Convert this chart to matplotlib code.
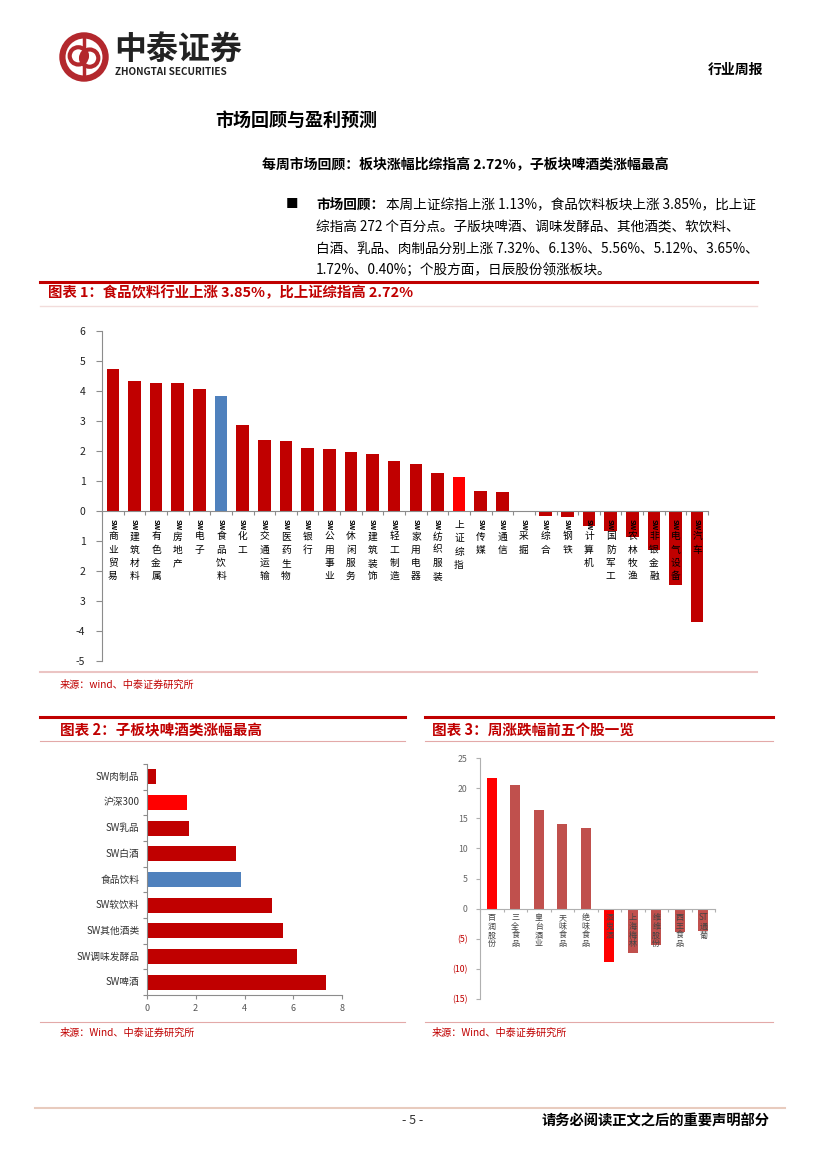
import matplotlib
matplotlib.use("Agg")
import matplotlib.pyplot as plt
from matplotlib.lines import Line2D
from matplotlib.patches import Circle

plt.rcParams['font.family'] = ['Noto Sans CJK SC', 'DejaVu Sans']

# 图表1 数据
ind_names = ['SW商业贸易', 'SW建筑材料', 'SW有色金属', 'SW房地产', 'SW电子', 'SW食品饮料',
             'SW化工', 'SW交通运输', 'SW医药生物', 'SW银行', 'SW公用事业', 'SW休闲服务',
             'SW建筑装饰', 'SW轻工制造', 'SW家用电器', 'SW纺织服装', '上证综指', 'SW传媒',
             'SW通信', 'SW采掘', 'SW综合', 'SW钢铁', 'SW计算机', 'SW国防军工', 'SW农林牧渔',
             'SW非银金融', 'SW电气设备', 'SW汽车']
ind_values = [4.73, 4.33, 4.27, 4.26, 4.07, 3.85, 2.87, 2.37, 2.33, 2.10, 2.07, 1.97,
              1.90, 1.67, 1.57, 1.27, 1.13, 0.67, 0.63, 0.01, -0.16, -0.19, -0.49, -0.66,
              -0.86, -1.29, -2.46, -3.69]
ind_yticks = [6, 5, 4, 3, 2, 1, 0, -1, -2, -3, -4, -5]
ind_yticklabels = ['6', '5', '4', '3', '2', '1', '0', '1', '2', '3', '-4', '-5']

# 图表2 数据
sub_names = ['SW肉制品', '沪深300', 'SW乳品', 'SW白酒', '食品饮料', 'SW软饮料',
             'SW其他酒类', 'SW调味发酵品', 'SW啤酒']
sub_values = [0.40, 1.65, 1.72, 3.65, 3.85, 5.12, 5.56, 6.13, 7.32]

# 图表3 数据
stock_names = ['百润股份', '三全食品', '皇台酒业', '天味食品', '绝味食品',
               '酒鬼酒', '上海梅林', '维维股份', '西王食品', 'ST通葡']
stock_values = [21.6, 20.5, 16.3, 14.1, 13.3, -8.9, -7.4, -6.1, -3.9, -3.7]
stock_yticks = [25, 20, 15, 10, 5, 0, -5, -10, -15]
stock_yticklabels = ['25', '20', '15', '10', '5', '0', '(5)', '(10)', '(15)']

W, H = 827, 1169
RED = '#C00000'
PINK = '#E3A9A8'
GRAY = '#8C8C8C'

fig = plt.figure(figsize=(W / 100, H / 100), dpi=100)


def fx(x):
    return x / W


def fy(y):
    return 1 - y / H


def hline(x0, x1, y, color, lw):
    fig.add_artist(Line2D([fx(x0), fx(x1)], [fy(y), fy(y)], transform=fig.transFigure,
                          color=color, lw=lw))


def put(x, y, s, **kw):
    fig.text(fx(x), fy(y), s, va='center', **kw)


def axes_px(x0, y0, x1, y1):
    return fig.add_axes([fx(x0), fy(y1), (x1 - x0) / W, (y1 - y0) / H])


# ---- 页眉 ----
logo = axes_px(59, 32, 109, 82)
logo.set_aspect('equal')
logo.set_xlim(-1.1, 1.1)
logo.set_ylim(-1.1, 1.1)
logo.axis('off')
logo.add_patch(Circle((0, 0), 0.95, fill=False, ec='#B3282D', lw=4.5))
logo.add_patch(Circle((-0.25, 0.05), 0.38, fill=False, ec='#B3282D', lw=3))
logo.add_patch(Circle((0.25, -0.05), 0.38, fill=False, ec='#B3282D', lw=3))
logo.plot([0.0, 0.0], [-0.85, 0.85], color='#B3282D', lw=2.5)

put(114, 50, '中泰证券', fontsize=23, fontweight='bold', color='#222222')
put(115, 72, 'ZHONGTAI SECURITIES', fontsize=7.2, fontweight='bold', color='#222222')
put(763, 70, '行业周报', fontsize=10, fontweight='bold', ha='right')

put(215, 120, '市场回顾与盈利预测', fontsize=13, fontweight='bold')
put(262, 165, '每周市场回顾：板块涨幅比综指高 2.72%，子板块啤酒类涨幅最高',
    fontsize=10, fontweight='bold')

put(286, 205, '■', fontsize=9)
para = ['本周上证综指上涨 1.13%，食品饮料板块上涨 3.85%，比上证',
        '综指高 272 个百分点。子版块啤酒、调味发酵品、其他酒类、软饮料、',
        '白酒、乳品、肉制品分别上涨 7.32%、6.13%、5.56%、5.12%、3.65%、',
        '1.72%、0.40%；个股方面，日辰股份领涨板块。']
put(316, 205, '市场回顾：', fontsize=9.8, fontweight='bold')
put(386, 205, para[0], fontsize=9.8)
for i, line in enumerate(para[1:]):
    put(316, 227 + 21.5 * i, line, fontsize=9.8)

# ---- 图表1 ----
hline(40, 757, 282, RED, 2.2)
put(48, 293, '图表 1：食品饮料行业上涨 3.85%，比上证综指高 2.72%', fontsize=10.4,
    fontweight='bold', color=RED)
hline(40, 757, 306, '#F2DCDB', 1)

ax1 = axes_px(102, 331, 708, 661)
xs = list(range(len(ind_names)))
colors1 = []
for n in ind_names:
    if n == 'SW食品饮料':
        colors1.append('#4F81BD')
    elif n == '上证综指':
        colors1.append('#FF0000')
    else:
        colors1.append(RED)
ax1.bar(xs, ind_values, width=0.58, color=colors1, zorder=2)
ax1.set_xlim(-0.5, len(ind_names) - 0.5)
ax1.set_ylim(-5, 6)
ax1.set_yticks(ind_yticks)
ax1.set_yticklabels(ind_yticklabels, fontsize=7.5, color='#222222')
ax1.spines['top'].set_visible(False)
ax1.spines['right'].set_visible(False)
ax1.spines['bottom'].set_position(('data', 0))
for s in ['left', 'bottom']:
    ax1.spines[s].set_color(GRAY)
ax1.set_xticks([i + 0.5 for i in range(-1, len(ind_names))])
ax1.set_xticklabels([])
ax1.tick_params(axis='x', length=3, color=GRAY)
ax1.tick_params(axis='y', length=4, color=GRAY, pad=8)
for i, n in enumerate(ind_names):
    if n.startswith('SW'):
        ax1.text(i, -0.27, 'SW', rotation=-90, ha='center', va='top', fontsize=5.3,
                 fontweight='bold', zorder=3)
        y = -0.85
        chars = n[2:]
    else:
        y = -0.47
        chars = n
    for c in chars:
        ax1.text(i, y, c, ha='center', va='center', fontsize=7, zorder=3)
        y -= 0.44

hline(40, 757, 672, '#EBC4C3', 1.5)
put(60, 685, '来源：wind、中泰证券研究所', fontsize=7.3, color=RED)

# ---- 图表2 ----
hline(40, 405, 717, RED, 2.2)
put(60, 730, '图表 2：子板块啤酒类涨幅最高', fontsize=10.5, fontweight='bold', color=RED)
hline(40, 405, 741, PINK, 0.8)

ax2 = axes_px(146.7, 764, 342.3, 995)
colors2 = []
for n in sub_names:
    if n == '食品饮料':
        colors2.append('#4F81BD')
    elif n == '沪深300':
        colors2.append('#FF0000')
    else:
        colors2.append(RED)
ax2.barh(range(len(sub_names)), sub_values, height=0.59, color=colors2, zorder=2)
ax2.set_ylim(len(sub_names) - 0.5, -0.5)
ax2.set_xlim(0, 8)
ax2.set_xticks([0, 2, 4, 6, 8])
ax2.set_xticklabels(['0', '2', '4', '6', '8'], fontsize=6.5, color='#555555')
ax2.set_yticks([i + 0.5 for i in range(-1, len(sub_names))])
ax2.set_yticklabels([])
ax2.tick_params(axis='y', length=3, color=GRAY)
ax2.tick_params(axis='x', length=3, color=GRAY)
ax2.spines['top'].set_visible(False)
ax2.spines['right'].set_visible(False)
for s in ['left', 'bottom']:
    ax2.spines[s].set_color(GRAY)
for i, n in enumerate(sub_names):
    ax2.text(-0.3, i, n, ha='right', va='center', fontsize=7, color='#333333')

hline(40, 405, 1022, PINK, 0.8)
put(60, 1033, '来源：Wind、中泰证券研究所', fontsize=7.3, color=RED)

# ---- 图表3 ----
hline(425, 773, 717, RED, 2.2)
put(432, 730, '图表 3：周涨跌幅前五个股一览', fontsize=10.5, fontweight='bold', color=RED)
hline(425, 773, 741, PINK, 0.8)

ax3 = axes_px(480, 758, 715, 999)
colors3 = ['#FF0000' if i in (0, 5) else '#C0504D' for i in range(len(stock_names))]
ax3.bar(range(len(stock_names)), stock_values, width=0.44, color=colors3, zorder=2)
ax3.set_xlim(-0.5, len(stock_names) - 0.5)
ax3.set_ylim(-15, 25)
ax3.set_yticks(stock_yticks)
ax3.set_yticklabels(stock_yticklabels, fontsize=6.3)
for t, v in zip(ax3.get_yticklabels(), stock_yticks):
    t.set_color(RED if v < 0 else '#666666')
ax3.set_xticks([i + 0.5 for i in range(-1, len(stock_names))])
ax3.set_xticklabels([])
ax3.spines['top'].set_visible(False)
ax3.spines['right'].set_visible(False)
ax3.spines['bottom'].set_position(('data', 0))
for s in ['left', 'bottom']:
    ax3.spines[s].set_color('#B0B0B0')
ax3.tick_params(axis='x', length=2, color='#B0B0B0')
ax3.tick_params(axis='y', length=3, color='#B0B0B0', pad=6)
for i, n in enumerate(stock_names):
    y = -1.5
    chars = ['ST'] + list(n[2:]) if n.startswith('ST') else list(n)
    for c in chars:
        ax3.text(i, y, c, ha='center', va='center', fontsize=5.8, color='#444444', zorder=3)
        y -= 1.45

hline(425, 773, 1022, PINK, 0.8)
put(432, 1033, '来源：Wind、中泰证券研究所', fontsize=7.3, color=RED)

# ---- 页脚 ----
hline(35, 785, 1108, '#E8CBBE', 1.5)
put(413, 1121, '- 5 -', fontsize=9, ha='center', color='#333333')
put(770, 1121, '请务必阅读正文之后的重要声明部分', fontsize=10.3, fontweight='bold', ha='right')

fig.savefig('out.png', dpi=100)
